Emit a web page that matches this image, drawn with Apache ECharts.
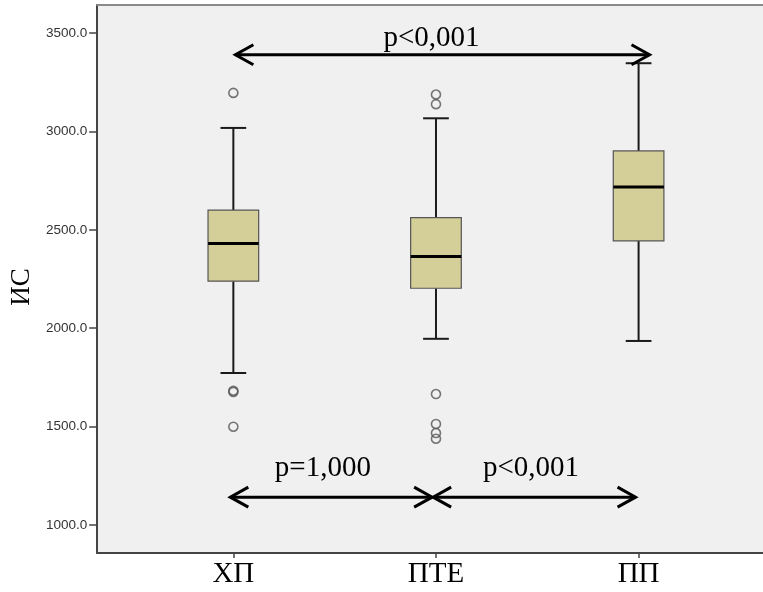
<!DOCTYPE html>
<html>
<head>
<meta charset="utf-8">
<script src="https://cdn.jsdelivr.net/npm/echarts@6/dist/echarts.min.js"></script>
<style>
  html, body { margin: 0; padding: 0; background: #ffffff; }
  #chart { width: 763px; height: 592px; }
</style>
</head>
<body>
<div id="chart"></div>
<script>
// Groups and their five-number summaries (ИС)
const categories = ['ХП', 'ПТЕ', 'ПП'];
const lowWhisker = [1772, 1946, 1935];
const q1 = [2239, 2203, 2444];
const median = [2431, 2365, 2718];
const q3 = [2600, 2562, 2901];
const highWhisker = [3018, 3067, 3347];

// Outliers: group index and value
const outlierGroup = [0, 0, 0, 0, 1, 1, 1, 1, 1, 1];
const outlierValue = [3196, 1676, 1682, 1499, 3188, 3139, 1665, 1513, 1467, 1438];

// Y-axis tick values
const yTicks = [1000, 1500, 2000, 2500, 3000, 3500];

// Pairwise comparison arrows and their p-values
const arrowFrom = [1.01, 0.985, 1.986];
const arrowTo = [3.054, 1.981, 2.985];
const arrowLevel = [3390, 1141, 1141];
const pLabels = ['p<0,001', 'p=1,000', 'p<0,001'];
const pLabelX = [1.978, 1.442, 2.469];
const pLabelY = [3400, 1212, 1212];

const serif = '"Liberation Serif", "Times New Roman", serif';
const sans = '"Liberation Sans", Arial, sans-serif';

const boxData = categories.map((c, i) => [i + 1, lowWhisker[i], q1[i], median[i], q3[i], highWhisker[i]]);
const outlierData = outlierGroup.map((g, i) => [g + 1, outlierValue[i]]);
const arrowData = arrowFrom.map((f, i) => [f, arrowTo[i], arrowLevel[i]]);
const labelData = pLabels.map((t, i) => [pLabelX[i], pLabelY[i], t]);

function renderBox(params, api) {
  const x = api.value(0);
  const boxW = api.size([0.25, 0])[0];
  const capW = api.size([0.127, 0])[0];
  const pLow = api.coord([x, api.value(1)]);
  const pQ1 = api.coord([x, api.value(2)]);
  const pMed = api.coord([x, api.value(3)]);
  const pQ3 = api.coord([x, api.value(4)]);
  const pHigh = api.coord([x, api.value(5)]);
  const cx = pMed[0];
  const whisker = { stroke: '#1a1a1a', lineWidth: 2 };
  return {
    type: 'group',
    children: [
      { type: 'line', shape: { x1: cx, y1: pHigh[1], x2: cx, y2: pQ3[1] }, style: whisker },
      { type: 'line', shape: { x1: cx, y1: pQ1[1], x2: cx, y2: pLow[1] }, style: whisker },
      { type: 'line', shape: { x1: cx - capW / 2, y1: pHigh[1], x2: cx + capW / 2, y2: pHigh[1] }, style: whisker },
      { type: 'line', shape: { x1: cx - capW / 2, y1: pLow[1], x2: cx + capW / 2, y2: pLow[1] }, style: whisker },
      { type: 'rect', shape: { x: cx - boxW / 2, y: pQ3[1], width: boxW, height: pQ1[1] - pQ3[1] },
        style: { fill: '#d4cf98', stroke: '#555555', lineWidth: 1.2 } },
      { type: 'line', shape: { x1: cx - boxW / 2, y1: pMed[1], x2: cx + boxW / 2, y2: pMed[1] },
        style: { stroke: '#000000', lineWidth: 3 } }
    ]
  };
}

function renderArrow(params, api) {
  const a = api.coord([api.value(0), api.value(2)]);
  const b = api.coord([api.value(1), api.value(2)]);
  const hx = 18, hy = 10;
  const st = { stroke: '#000000', lineWidth: 3, fill: null, lineJoin: 'miter' };
  return {
    type: 'group',
    children: [
      { type: 'line', shape: { x1: a[0], y1: a[1], x2: b[0], y2: b[1] }, style: st },
      { type: 'polyline', shape: { points: [[a[0] + hx, a[1] - hy], [a[0], a[1]], [a[0] + hx, a[1] + hy]] }, style: st },
      { type: 'polyline', shape: { points: [[b[0] - hx, b[1] - hy], [b[0], b[1]], [b[0] - hx, b[1] + hy]] }, style: st }
    ]
  };
}

function renderLabel(params, api) {
  const p = api.coord([api.value(0), api.value(1)]);
  return {
    type: 'text',
    x: p[0], y: p[1],
    style: {
      text: labelData[params.dataIndex][2],
      fill: '#000000',
      font: '29px ' + serif,
      textAlign: 'center',
      textVerticalAlign: 'bottom'
    }
  };
}

const chart = echarts.init(document.getElementById('chart'), null, { renderer: 'canvas' });
chart.setOption({
  animation: false,
  backgroundColor: '#ffffff',
  grid: { left: 94, right: 0, top: 5, bottom: 39, show: true, backgroundColor: '#f0f0f0', borderWidth: 0 },
  xAxis: [
    {
      type: 'value', min: 0.328, max: 3.614, position: 'bottom',
      axisLine: { show: true, lineStyle: { color: '#444444', width: 2 } },
      axisTick: { show: true, customValues: [1, 2, 3], length: 5, lineStyle: { color: '#444444', width: 1.5 } },
      axisLabel: {
        customValues: [1, 2, 3],
        formatter: v => categories[Math.round(v) - 1],
        fontFamily: serif, fontSize: 29, color: '#000000', margin: 7
      },
      splitLine: { show: false }
    },
    {
      type: 'value', min: 0.328, max: 3.614, position: 'top',
      axisLine: { show: true, lineStyle: { color: '#8a8a8a', width: 2 } },
      axisTick: { show: false }, axisLabel: { show: false }, splitLine: { show: false }
    }
  ],
  yAxis: {
    type: 'value', min: 857, max: 3643,
    name: 'ИС', nameLocation: 'middle', nameGap: 62, nameRotate: 90,
    nameTextStyle: { fontFamily: serif, fontSize: 27, color: '#000000', padding: [0, 16, 0, 0] },
    axisLine: { show: true, lineStyle: { color: '#444444', width: 2 } },
    axisTick: { show: true, customValues: yTicks, length: 8, lineStyle: { color: '#444444', width: 1.5 } },
    axisLabel: {
      customValues: yTicks,
      formatter: v => v.toFixed(1),
      fontFamily: sans, fontSize: 13.5, color: '#333333', margin: 10
    },
    splitLine: { show: false }
  },
  series: [
    { type: 'custom', renderItem: renderBox, data: boxData, xAxisIndex: 0, yAxisIndex: 0, z: 2 },
    {
      type: 'scatter', data: outlierData, xAxisIndex: 0, yAxisIndex: 0, z: 3,
      symbol: 'circle', symbolSize: 9,
      itemStyle: { color: 'rgba(0,0,0,0)', borderColor: '#555555', borderWidth: 1.6 }
    },
    { type: 'custom', renderItem: renderArrow, data: arrowData, xAxisIndex: 0, yAxisIndex: 0, z: 4 },
    { type: 'custom', renderItem: renderLabel, data: labelData, xAxisIndex: 0, yAxisIndex: 0, z: 5 }
  ]
});
</script>
</body>
</html>
